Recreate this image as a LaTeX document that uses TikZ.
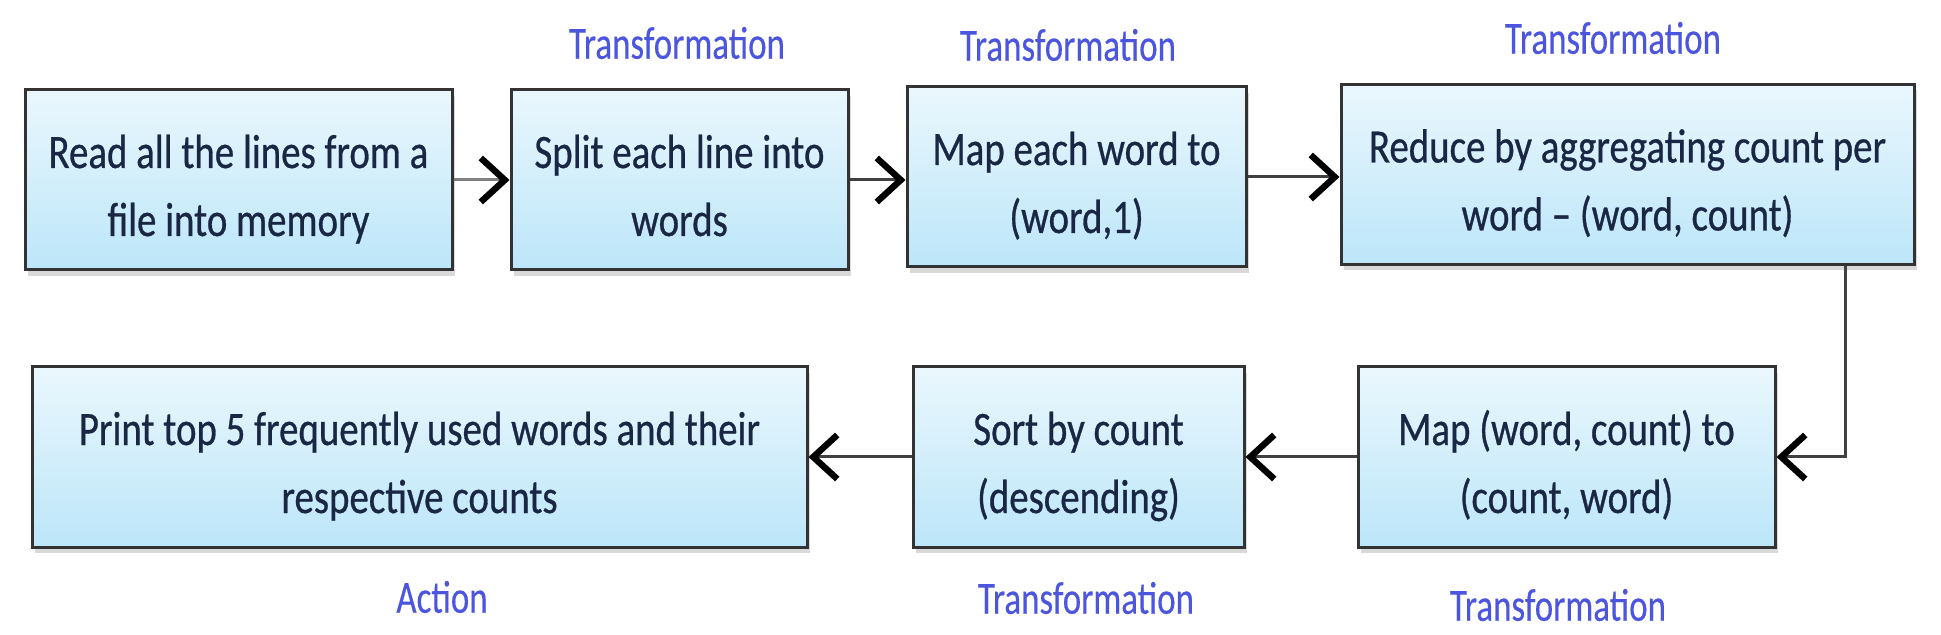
\documentclass[tikz,border=0pt]{standalone}
\usepackage{fontspec}
\setmainfont{Carlito}
\newfontfamily\stagefont{Carlito}[FakeStretch=0.81,FakeBold=0.6,Ligatures=TeX]
\newfontfamily\tagfont{Carlito}[FakeStretch=0.76,FakeBold=0.3]
\usepackage{tikz}
\usetikzlibrary{shadows,arrows.meta}
\definecolor{boxtext}{HTML}{1A2744}
\definecolor{tagblue}{HTML}{4B55DD}
\definecolor{boxtop}{HTML}{EAF7FD}
\definecolor{boxbot}{HTML}{BCE6F9}

\begin{document}
\begin{tikzpicture}[x=0.5pt,y=-0.5pt,
  stage/.style={draw=black!80,line width=1.5pt,top color=boxtop,bottom color=boxbot,
    drop shadow={shadow xshift=1.5pt,shadow yshift=-3pt,opacity=0.3},
    text=boxtext,align=center,inner sep=0pt,minimum height=90pt,
    text height=73pt,text depth=17pt,
    font=\stagefont\fontsize{24}{34}\selectfont},
  tag/.style={text=tagblue,font=\tagfont\fontsize{23}{26}\selectfont},
  flow/.style={line width=1.5pt,black!75,-{Straight Barb[length=12pt,width=22pt,line width=3.2pt,color=black]}}]
\useasboundingbox (0,0) rectangle (1941,635);
% top row
\node[stage,minimum width=213.5pt] (read) at (238.5,180) {Read all the lines from a\\file into memory};
\node[stage,minimum width=168.5pt] (split) at (679.5,180) {Split each line into\\words};
\node[stage,minimum width=169.5pt] (mapone) at (1076.5,177) {Map each word to\\(word,1)};
\node[stage,minimum width=286.5pt] (reduce) at (1627.5,174.5) {Reduce by aggregating count per\\word -- (word, count)};
% bottom row
\node[stage,minimum width=208.5pt] (swap) at (1566.5,457) {Map (word, count) to\\(count, word)};
\node[stage,minimum width=165.5pt] (sort) at (1078.5,457) {Sort by count\\(descending)};
\node[stage,minimum width=387.5pt] (print) at (419.5,457) {Print top 5 frequently used words and their\\respective counts};
% kinds
\node[tag] (tsplit) at (677,43) {Transformation};
\node[tag] (tmapone) at (1068,45) {Transformation};
\node[tag] (treduce) at (1613,38) {Transformation};
\node[tag] (tswap) at (1558,605) {Transformation};
\node[tag] (tsort) at (1086,598) {Transformation};
\node[tag] (tprint) at (442,597) {Action};
% arrows
\draw[flow,black!50] (read.east) -- (read.east -| split.west);
\draw[flow] (split.east) -- (split.east -| mapone.west);
\draw[flow] (mapone.east) -- (mapone.east -| reduce.west);
\coordinate (turn) at (1845,457);
\draw[flow] (reduce.south -| turn) -- (turn) -- (swap.east);
\draw[flow] (swap.west) -- (sort.east);
\draw[flow] (sort.west) -- (print.east);
\end{tikzpicture}
\end{document}
